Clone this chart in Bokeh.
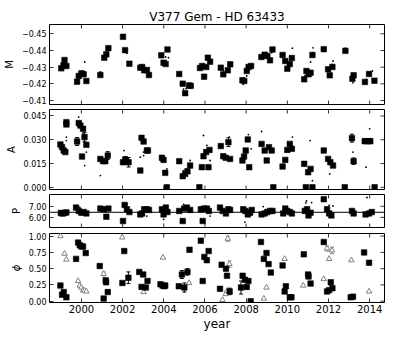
from bokeh.plotting import figure
from bokeh.layouts import column
from bokeh.models import (Range1d, FixedTicker, CustomJSTickFormatter,
                          Span, Whisker, TeeHead, ColumnDataSource)
from bokeh.embed import file_html
from bokeh.resources import INLINE

TITLE = "V377 Gem - HD 63433"
X_TICKS = [2000, 2002, 2004, 2006, 2008, 2010, 2012, 2014]

# ---------------- M panel ----------------
M_year = [
    1999.02, 1999.13, 1999.18, 1999.27, 1999.79, 1999.87, 2000.00, 2000.11, 2000.24, 2000.92,
    2001.11, 2001.21, 2001.31, 2002.02, 2002.12, 2002.33, 2002.86, 2002.95, 2003.05, 2003.18,
    2003.28, 2003.88, 2003.99, 2004.09, 2004.18, 2004.75, 2004.92, 2005.04, 2005.23, 2005.31,
    2005.76, 2005.86, 2005.96, 2006.06, 2006.14, 2006.25, 2006.77, 2006.89, 2007.11, 2007.23,
    2007.82, 2007.91, 2008.03, 2008.12, 2008.24, 2008.74, 2008.90, 2009.03, 2009.16, 2009.28,
    2009.77, 2009.90, 2010.00, 2010.12, 2010.22, 2010.82, 2010.93, 2011.03, 2011.13, 2011.22,
    2011.77, 2011.98, 2012.06, 2012.19, 2012.82, 2013.16, 2013.22, 2013.77, 2013.97, 2014.23]
M_val = [
    -0.4293, -0.4311, -0.4343, -0.4307, -0.4213, -0.4247, -0.4263, -0.4257, -0.4217, -0.4253,
    -0.4357, -0.4377, -0.4414, -0.4482, -0.4402, -0.4321, -0.4297, -0.4301, -0.4281, -0.4283,
    -0.4253, -0.4371, -0.4327, -0.4319, -0.4406, -0.4259, -0.4201, -0.4144, -0.4190, -0.4188,
    -0.4295, -0.4307, -0.4243, -0.4301, -0.4357, -0.4333, -0.4297, -0.4257, -0.4281, -0.4317,
    -0.4221, -0.4217, -0.4277, -0.4301, -0.4307, -0.4361, -0.4375, -0.4367, -0.4341, -0.4406,
    -0.4373, -0.4337, -0.4291, -0.4319, -0.4355, -0.4227, -0.4277, -0.4257, -0.4267, -0.4373,
    -0.4408, -0.4287, -0.4251, -0.4301, -0.4398, -0.4231, -0.4251, -0.4211, -0.4259, -0.4219]
M_err_idx = [13, 14, 64]
M_err = [0.0006, 0.0008, 0.0010]
M_dot_year = [2000.16, 2000.92, 2002.21, 2004.09, 2004.23, 2004.96, 2005.09, 2006.14, 2006.22,
              2006.89, 2007.18, 2007.86, 2008.03, 2008.83, 2009.24, 2010.25, 2010.85, 2011.13,
              2011.25, 2011.21, 2012.22, 2012.19, 2012.82, 2013.19, 2014.03, 2014.13, 2013.84]
M_dot_val = [-0.4331, -0.4271, -0.4383, -0.4361, -0.4357, -0.4168, -0.4172, -0.4367, -0.4327,
             -0.4281, -0.4327, -0.4197, -0.4247, -0.4351, -0.4387, -0.4414, -0.4247, -0.4331,
             -0.4416, -0.4387, -0.4337, -0.4317, -0.4414, -0.4207, -0.4271, -0.4277, -0.4227]
M_ticks = [-0.45, -0.44, -0.43, -0.42, -0.41]

# ---------------- A panel ----------------
A_year = [
    1998.98, 1999.06, 1999.14, 1999.22, 1999.27, 1999.27, 1999.79, 1999.87, 1999.95, 2000.03,
    2000.08, 2000.15, 2000.24, 2000.92, 2001.05, 2001.16, 2001.28, 2002.02, 2002.13, 2002.29,
    2002.86, 2002.92, 2003.02, 2003.18, 2003.23, 2003.91, 2003.99, 2004.07, 2004.75, 2004.92,
    2005.04, 2005.15, 2005.28, 2005.85, 2005.93, 2006.06, 2006.17, 2006.22, 2006.77, 2006.89,
    2007.01, 2007.14, 2007.22, 2007.82, 2007.90, 2007.98, 2008.08, 2008.15, 2008.75, 2008.90,
    2009.00, 2009.11, 2009.24, 2009.77, 2009.90, 2010.00, 2010.12, 2010.22, 2010.82, 2011.01,
    2011.13, 2011.77, 2011.98, 2012.09, 2012.22, 2013.14, 2013.22, 2013.76, 2013.92, 2014.03,
    2004.15, 2005.73, 2009.32, 2010.90, 2011.22, 2012.79, 2014.24]
A_val = [
    0.0270, 0.0253, 0.0232, 0.0222, 0.0397, 0.0411, 0.0289, 0.0405, 0.0390, 0.0194,
    0.0369, 0.0317, 0.0268, 0.0179, 0.0165, 0.0165, 0.0200, 0.0158, 0.0175, 0.0158,
    0.0106, 0.0312, 0.0289, 0.0232, 0.0232, 0.0186, 0.0173, 0.0091, 0.0165, 0.0070,
    0.0084, 0.0101, 0.0137, 0.0127, 0.0196, 0.0222, 0.0127, 0.0236, 0.0260, 0.0196,
    0.0186, 0.0285, 0.0179, 0.0169, 0.0194, 0.0232, 0.0302, 0.0127, 0.0274, 0.0232,
    0.0169, 0.0253, 0.0232, 0.0131, 0.0173, 0.0236, 0.0274, 0.0243, 0.0148, 0.0095,
    0.0116, 0.0232, 0.0179, 0.0158, 0.0137, 0.0310, 0.0165, 0.0291, 0.0291, 0.0291,
    0.0, 0.0, 0.0, 0.0, 0.0, 0.0, 0.0]
A_err_idx = [6, 11, 16, 18, 19, 25, 41, 65, 66, 67, 68, 69]
A_err = [0.0025, 0.003, 0.0025, 0.0018, 0.003, 0.0015, 0.0028, 0.0025, 0.002, 0.0015, 0.0015, 0.0015]
A_dot_year = [1999.27, 1999.27, 1999.87, 2000.08, 2000.15, 2000.16, 2000.24, 2000.92, 2002.07,
              2002.86, 2003.02, 2003.02, 2004.15, 2004.96, 2005.28, 2005.93, 2006.09, 2006.25,
              2007.18, 2008.11, 2008.24, 2008.75, 2009.24, 2010.25, 2011.11, 2011.22, 2012.06,
              2013.19, 2013.82, 2014.00]
A_dot_val = [0.0317, 0.0295, 0.0443, 0.0342, 0.0295, 0.0137, 0.0222, 0.0074, 0.0232,
             0.0190, 0.0222, 0.0200, 0.0116, 0.0105, 0.0169, 0.0327, 0.0264, 0.0169,
             0.0317, 0.0333, 0.0243, 0.0352, 0.0222, 0.0317, 0.0295, 0.0042, 0.0084,
             0.0222, 0.0127, 0.0369]
A_ticks = [0.000, 0.015, 0.030, 0.045]

# ---------------- P panel ----------------
P_year = [
    1999.00, 1999.08, 1999.18, 1999.27, 1999.74, 1999.87, 2000.00, 2000.11, 2000.24,
    2000.92, 2001.08, 2001.21, 2001.31, 2002.02, 2002.10, 2002.21, 2002.33,
    2002.86, 2002.95, 2003.05, 2003.18, 2003.28, 2003.91, 2003.99, 2004.10, 2004.18,
    2004.75, 2004.92, 2004.99, 2005.12, 2005.28, 2005.80, 2005.89, 2005.96, 2006.09, 2006.19,
    2006.73, 2006.86, 2007.02, 2007.14, 2007.22, 2007.86, 2007.96, 2008.08, 2008.19, 2008.27,
    2008.75, 2008.90, 2009.03, 2009.16, 2009.28, 2009.80, 2009.90, 2010.00, 2010.12, 2010.22,
    2010.85, 2010.96, 2011.03, 2011.13, 2011.77, 2011.93, 2012.03, 2012.14,
    2013.14, 2013.22, 2013.80, 2013.97, 2014.10]
P_val = [
    6.40, 6.35, 6.40, 6.45, 6.88, 6.58, 6.42, 6.48, 6.36,
    6.79, 6.73, 6.06, 6.79, 5.67, 7.12, 6.73, 6.48,
    6.27, 6.36, 6.73, 6.73, 6.67, 6.73, 6.27, 6.88, 6.48,
    6.58, 5.67, 6.79, 6.88, 6.67, 6.73, 5.67, 6.79, 6.79, 6.58,
    6.88, 6.58, 6.36, 6.73, 6.67, 6.73, 6.58, 6.27, 6.42, 6.67,
    6.27, 6.36, 6.48, 6.58, 6.58, 6.36, 6.79, 6.58, 6.48, 6.36,
    6.58, 6.73, 6.18, 6.42, 7.64, 6.73, 6.36, 6.18,
    6.58, 6.36, 6.27, 6.36, 6.48]
P_dot_year = [2002.21, 2003.18, 2003.99, 2004.12, 2004.96, 2006.25, 2007.94, 2008.83,
              2010.93, 2011.18, 2012.03, 2012.22, 2013.87, 2010.90, 1999.92]
P_dot_val = [7.18, 6.12, 5.82, 7.03, 7.18, 6.12, 5.58, 6.97,
             7.48, 7.33, 7.09, 7.03, 7.79, 7.30, 6.90]
P_mean = 6.46
P_ticks = [6.0, 7.0]

# ---------------- phi panel ----------------
F_year = [
    1998.98, 1999.06, 1999.14, 1999.27, 1999.74, 1999.84, 1999.92, 2000.00, 2000.08, 2000.21,
    2000.89, 2001.08, 2001.18, 2001.20, 2001.28, 2001.99, 2002.08, 2002.28, 2002.81, 2002.92,
    2003.00, 2003.13, 2003.21, 2003.84, 2003.94, 2004.02, 2004.07, 2004.73, 2004.88, 2005.00,
    2005.15, 2005.25, 2005.80, 2005.89, 2005.97, 2006.09, 2006.18, 2006.73, 2006.81, 2007.02,
    2007.07, 2007.20, 2007.75, 2007.83, 2007.94, 2008.03, 2008.11, 2008.22, 2008.72, 2008.86,
    2008.99, 2009.09, 2009.20, 2009.77, 2009.87, 2009.93, 2010.12, 2010.20, 2010.80, 2011.01,
    2011.03, 2011.13, 2011.77, 2011.93, 2012.03, 2012.11, 2012.19, 2013.08, 2013.19, 2013.73,
    2013.97]
F_val = [
    0.24, 0.10, 0.14, 0.06, 0.65, 0.90, 0.86, 0.84, 0.84, 0.74,
    0.54, 0.04, 0.32, 0.29, 0.14, 0.28, 0.77, 0.36, 0.45, 0.22,
    0.41, 0.21, 0.31, 0.26, 0.24, 0.23, 0.24, 0.23, 0.41, 0.21,
    0.45, 0.79, 0.93, 0.31, 0.68, 0.63, 0.77, 0.19, 0.56, 0.50,
    0.39, 0.15, 0.21, 0.39, 0.33, 0.22, 0.31, 0.00, 0.91, 0.65,
    0.74, 0.57, 0.44, 0.55, 0.15, 0.23, 0.06, 0.06, 0.72, 0.41,
    0.38, 0.27, 0.91, 0.15, 0.17, 0.29, 0.20, 0.06, 0.07, 0.75,
    0.59]
F_err_idx = [17, 28, 29, 30, 38, 41, 42]
F_err = [0.09, 0.06, 0.07, 0.05, 0.03, 0.05, 0.10]
T_year = [
    1998.98, 1999.18, 1999.27, 1999.84, 1999.92, 2000.00, 2000.08, 2000.15, 2000.24, 2001.08,
    2001.98, 2003.02, 2003.96, 2005.23, 2006.85, 2007.01, 2007.07, 2007.19, 2007.11, 2008.86,
    2008.99, 2009.87, 2010.77, 2011.77, 2011.93, 2012.03, 2012.17, 2013.11, 2013.97]
T_val = [
    1.00, 0.73, 0.64, 0.31, 0.24, 0.21, 0.17, 0.16, 0.15, 0.42,
    0.98, 0.14, 0.67, 0.28, 0.02, 0.11, 0.16, 0.57, 0.96, 0.04,
    0.21, 0.65, 0.24, 0.34, 0.81, 0.65, 0.78, 0.63, 0.15]
T_err_idx = [9, 17, 18, 24, 26]
T_err = [0.03, 0.05, 0.04, 0.04, 0.05]
F_ticks = [0.0, 0.25, 0.5, 0.75, 1.0]

FONT = "DejaVu Sans"
FW = 335
X_START, X_END = 1998.45, 2014.72
TICK_LEN = 4  # px


def style_axis(ax, label_size):
    ax.major_tick_in = TICK_LEN
    ax.major_tick_out = 0
    ax.minor_tick_line_color = None
    ax.axis_line_color = None
    ax.major_tick_line_color = "black"
    ax.major_tick_line_width = 0.8
    ax.major_label_text_font = FONT
    ax.major_label_text_color = "black"
    ax.major_label_text_font_size = label_size


def inner_ticks(p, fh, ystart, yend, yticks, bottom=True):
    """tick marks (no labels) on the top, right and optionally bottom frame edges"""
    dy = TICK_LEN * (yend - ystart) / fh
    dx = TICK_LEN * (X_END - X_START) / FW
    xs0, xs1, ys0, ys1 = [], [], [], []
    for t in X_TICKS:
        xs0.append(t); xs1.append(t); ys0.append(yend); ys1.append(yend - dy)
        if bottom:
            xs0.append(t); xs1.append(t); ys0.append(ystart); ys1.append(ystart + dy)
    for t in yticks:
        xs0.append(X_END); xs1.append(X_END - dx); ys0.append(t); ys1.append(t)
    p.segment(xs0, ys0, xs1, ys1, line_color="black", line_width=0.8)


def panel(fh, ystart, yend, yticks, decimals, ylabel, top, bottom, xlabels=False,
          label_italic=False):
    p = figure(frame_width=FW, frame_height=fh,
               x_range=Range1d(X_START, X_END), y_range=Range1d(ystart, yend),
               output_backend="svg", toolbar_location=None,
               min_border_left=40, min_border_right=10,
               min_border_top=top, min_border_bottom=bottom,
               background_fill_color="white", border_fill_color="white")
    p.grid.visible = False
    p.outline_line_color = "black"
    p.outline_line_width = 1
    p.outline_line_alpha = 1
    fmt = CustomJSTickFormatter(code="return tick.toFixed(%d).replace('-', '\\u2212');" % decimals)
    yax = p.yaxis[0]
    yax.ticker = FixedTicker(ticks=yticks)
    yax.formatter = fmt
    style_axis(yax, "8px")
    yax.major_label_standoff = 3
    yax.axis_label = ylabel
    yax.axis_label_text_font = FONT
    yax.axis_label_text_font_size = "10px"
    yax.axis_label_text_font_style = "italic" if label_italic else "normal"
    yax.axis_label_text_color = "black"
    yax.axis_label_standoff = 4
    xax = p.xaxis[0]
    if xlabels:
        xax.ticker = FixedTicker(ticks=X_TICKS)
        style_axis(xax, "10px")
        xax.major_label_standoff = 2
        xax.axis_label = "year"
        xax.axis_label_text_font = FONT
        xax.axis_label_text_font_size = "12px"
        xax.axis_label_text_font_style = "normal"
        xax.axis_label_text_color = "black"
        xax.axis_label_standoff = 1
    else:
        xax.visible = False
    inner_ticks(p, fh, ystart, yend, yticks, bottom=not xlabels)
    return p


def add_err(p, xs, ys, idx, err, color="black"):
    src = ColumnDataSource(dict(base=[xs[i] for i in idx],
                                upper=[ys[i] + e for i, e in zip(idx, err)],
                                lower=[ys[i] - e for i, e in zip(idx, err)]))
    w = Whisker(source=src, base="base", upper="upper", lower="lower", dimension="height",
                line_color=color, line_width=1,
                upper_head=TeeHead(size=4, line_color=color, line_width=1),
                lower_head=TeeHead(size=4, line_color=color, line_width=1))
    p.add_layout(w)


def squares(p, xs, ys):
    p.scatter(xs, ys, marker="square", size=5.5, fill_color="black", line_color="black",
              line_width=0.6)


def dots(p, xs, ys):
    p.scatter(xs, ys, marker="circle", size=1.8, fill_color="black", line_color=None)


# M
p1 = panel(80, -0.4076, -0.4556, M_ticks, 2, "M", 24, 2)
p1.title.text = TITLE
p1.title.align = "center"
p1.title.text_font = FONT
p1.title.text_font_size = "12px"
p1.title.text_font_style = "normal"
p1.title.text_color = "black"
p1.title.standoff = 1
dots(p1, M_dot_year, M_dot_val)
add_err(p1, M_year, M_val, M_err_idx, M_err)
squares(p1, M_year, M_val)

# A
p2 = panel(80, -0.0014, 0.0491, A_ticks, 3, "A", 3, 4)
dots(p2, A_dot_year, A_dot_val)
add_err(p2, A_year, A_val, A_err_idx, A_err)
squares(p2, A_year, A_val)

# P
p3 = panel(33, 5.09, 8.06, P_ticks, 2, "P", 1, 3)
p3.add_layout(Span(location=P_mean, dimension="width", line_color="black", line_width=1))
dots(p3, P_dot_year, P_dot_val)
squares(p3, P_year, P_val)

# phi
p4 = panel(69, -0.02, 1.04, F_ticks, 2, "\u03d5", 3, 4, xlabels=True, label_italic=True)
add_err(p4, T_year, T_val, T_err_idx, T_err, color="#888888")
p4.scatter(T_year, T_val, marker="triangle", size=5.5, fill_color="white",
           line_color="#808080", line_width=1)
add_err(p4, F_year, F_val, F_err_idx, F_err)
squares(p4, F_year, F_val)

layout = column(p1, p2, p3, p4, spacing=0)
open("out.html", "w").write(file_html(layout, INLINE))
